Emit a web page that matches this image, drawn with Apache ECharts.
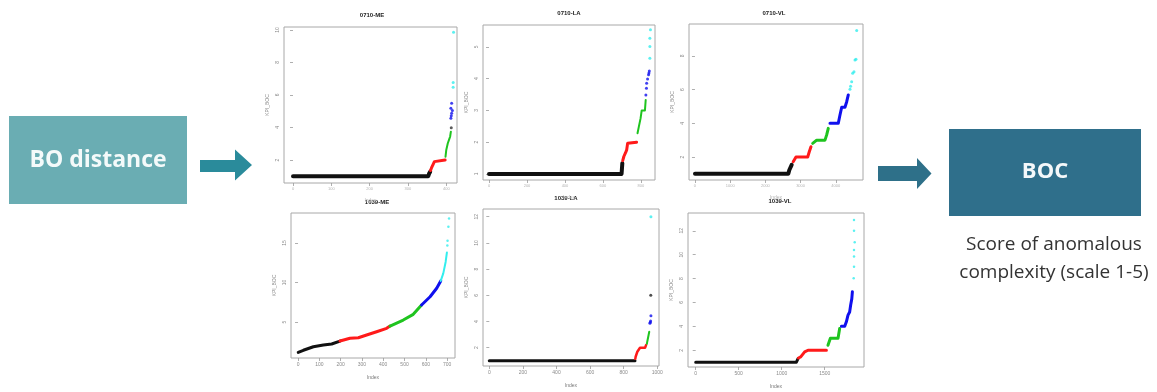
<!DOCTYPE html>
<html>
<head>
<meta charset="utf-8">
<script src="https://cdn.jsdelivr.net/npm/echarts@6/dist/echarts.min.js"></script>
<style>
html,body{margin:0;padding:0;background:#fff;}
#chart{width:1157px;height:392px;}
</style>
</head>
<body>
<div id="chart"></div>
<script>
// ---- Panel titles ----
const panelTitles = ['0710-ME', '0710-LA', '0710-VL', '1039-ME', '1039-LA', '1039-VL'];

// ---- Tick labels ----
const xTicks = [
  [0, 100, 200, 300, 400],
  [0, 200, 400, 600, 800],
  [0, 1000, 2000, 3000, 4000],
  [0, 100, 200, 300, 400, 500, 600, 700],
  [0, 200, 400, 600, 800, 1000],
  [0, 500, 1000, 1500]
];
const yTicks = [
  [2, 4, 6, 8, 10],
  [1, 2, 3, 4, 5],
  [2, 4, 6, 8],
  [5, 10, 15],
  [2, 4, 6, 8, 10, 12],
  [2, 4, 6, 8, 10, 12]
];

// ---- Series values: [index, KPI_BOC] ----
// 0710-ME
const me0710_black = [[0, 1], [353, 1], [355, 1.15], [358, 1.28]];
const me0710_red = [[359, 1.35], [362, 1.55], [366, 1.75], [369, 1.9], [371, 2.0], [397, 2.0]];
const me0710_green = [[398, 2.2], [400, 2.62], [404, 3.03], [408, 3.3], [410, 3.43], [412, 3.74]];
const me0710_dark = [[413, 3.99]];
const me0710_blue = [[412, 4.56], [413, 4.72], [414, 4.87], [412, 5.18], [416, 5.05], [414, 5.49]];
const me0710_cyan = [[418, 6.47], [418, 6.76], [419, 9.86]];
// 0710-LA
const la0710_black = [[0, 1], [698, 1], [702, 1.34]];
const la0710_red = [[704, 1.42], [710, 1.55], [719, 1.67], [725, 1.76], [730, 1.97], [733, 2.0], [777, 2.0]];
const la0710_green = [[782, 2.28], [789, 2.49], [798, 2.75], [804, 3.0], [821, 3.0], [825, 3.33]];
const la0710_blue = [[826, 3.49], [829, 3.7], [830, 3.86], [835, 3.99], [840, 4.12], [842, 4.18], [844, 4.24]];
const la0710_cyan = [[847, 4.64], [847, 5.01], [847, 5.27], [850, 5.54]];
// 0710-VL
const vl0710_black = [[0, 1], [2651, 1], [2680, 1.23], [2747, 1.53]];
const vl0710_red = [[2790, 1.72], [2869, 2.0], [3202, 2.0], [3247, 2.31], [3295, 2.61]];
const vl0710_green = [[3344, 2.81], [3457, 3.0], [3693, 3.0], [3741, 3.31], [3787, 3.7]];
const vl0710_blue = [[3835, 4.0], [4071, 4.0], [4119, 4.49], [4168, 4.95], [4261, 4.95], [4310, 5.28], [4355, 5.68]];
const vl0710_cyan = [[4403, 6.02], [4420, 6.2], [4451, 6.47], [4480, 6.97], [4517, 7.06], [4545, 7.76], [4574, 7.8], [4594, 9.5]];
// 1039-ME
const me1039_black = [[1, 1.16], [25, 1.42], [72, 1.87], [119, 2.09], [158, 2.22], [197, 2.59]];
const me1039_red = [[197, 2.59], [244, 2.94], [283, 3.01], [322, 3.35], [369, 3.77], [416, 4.2], [432, 4.49]];
const me1039_green = [[432, 4.49], [494, 5.25], [541, 5.97], [580, 7.15]];
const me1039_blue = [[580, 7.15], [620, 8.2], [651, 9.27], [670, 10.2]];
const me1039_cyanLine = [[670, 10.2], [682, 11.16], [693, 12.6], [699, 13.8]];
const me1039_cyan = [[701, 14.7], [702, 15.3], [706, 17.06], [709, 18.1]];
// 1039-LA
const la1039_black = [[0, 1], [867, 1]];
const la1039_red = [[869, 1.15], [871, 1.31], [881, 1.69], [897, 2.0], [927, 2.0], [933, 2.2]];
const la1039_green = [[938, 2.3], [940, 2.46], [946, 2.84], [952, 3.22]];
const la1039_blue = [[956, 3.86], [958, 3.95], [960, 4.04], [962, 4.44]];
const la1039_dark = [[961, 6.0]];
const la1039_cyan = [[962, 12.0]];
// 1039-VL
const vl1039_black = [[0, 1], [1171, 1], [1190, 1.3]];
const vl1039_red = [[1195, 1.35], [1221, 1.44], [1267, 1.86], [1306, 2.0], [1520, 2.0]];
const vl1039_green = [[1538, 2.42], [1566, 3.0], [1655, 3.0], [1674, 3.82]];
const vl1039_blue = [[1694, 4.0], [1733, 4.0], [1752, 4.38], [1771, 4.94], [1790, 5.2], [1802, 5.78], [1815, 6.3], [1822, 6.9]];
const vl1039_cyan = [[1837, 8.02], [1841, 9.0], [1841, 9.84], [1841, 10.4], [1849, 11.05], [1841, 12.0], [1841, 12.9]];

// ---- Flow labels ----
const leftBoxLabel = 'BO distance';
const rightBoxLabel = 'BOC';
const captionLines = ['Score of anomalous', 'complexity (scale 1-5)'];

// ---- Colours (R palette) ----
const C = { black: '#111111', red: '#ff1a1a', green: '#1fc41f', blue: '#1010ee', cyan: '#33eeee' };

// ---- Layout ----
const grids = [
  { left: 284, top: 27, width: 173, height: 156 },
  { left: 483, top: 25, width: 172, height: 155 },
  { left: 689, top: 24, width: 174, height: 156 },
  { left: 291, top: 213, width: 164, height: 145 },
  { left: 483, top: 209, width: 176, height: 157 },
  { left: 688, top: 213, width: 176, height: 154 }
];
const xRange = [[-23.5, 428], [-31.6, 874], [-170, 4773], [-33, 737], [-37.5, 1010], [-89.5, 1957]];
const yRange = [[0.585, 10.18], [0.81, 5.69], [0.635, 9.89], [0.443, 18.8], [0.603, 12.59], [0.597, 13.49]];

const panels = [
  { lines: [[me0710_black, C.black, 4], [me0710_red, C.red, 3], [me0710_green, C.green, 2]],
    dots: [[me0710_dark, '#333', 3], [me0710_blue, C.blue, 3], [me0710_cyan, C.cyan, 3]] },
  { lines: [[la0710_black, C.black, 4], [la0710_red, C.red, 3], [la0710_green, C.green, 2]],
    dots: [[la0710_blue, C.blue, 3], [la0710_cyan, C.cyan, 3]] },
  { lines: [[vl0710_black, C.black, 4], [vl0710_red, C.red, 3], [vl0710_green, C.green, 3], [vl0710_blue, C.blue, 3]],
    dots: [[vl0710_cyan, C.cyan, 3]] },
  { lines: [[me1039_black, C.black, 3], [me1039_red, C.red, 3], [me1039_green, C.green, 3], [me1039_blue, C.blue, 3], [me1039_cyanLine, C.cyan, 2]],
    dots: [[me1039_cyan, C.cyan, 2.5]] },
  { lines: [[la1039_black, C.black, 3], [la1039_red, C.red, 2.5], [la1039_green, C.green, 2]],
    dots: [[la1039_blue, C.blue, 3], [la1039_dark, '#222', 3], [la1039_cyan, C.cyan, 3]] },
  { lines: [[vl1039_black, C.black, 3], [vl1039_red, C.red, 3], [vl1039_green, C.green, 3], [vl1039_blue, C.blue, 3]],
    dots: [[vl1039_cyan, C.cyan, 2.5]] }
];

const tickColor = '#9a9a9a';
const plain = v => String(v);
const grid = [], xAxis = [], yAxis = [], series = [];
grids.forEach((g, i) => {
  grid.push(Object.assign({ show: true, borderColor: '#a8a8a8', borderWidth: 1, backgroundColor: '#fff' }, g));
  xAxis.push({
    type: 'value', gridIndex: i, min: xRange[i][0], max: xRange[i][1],
    splitLine: { show: false }, axisLine: { show: false },
    axisTick: { show: true, customValues: xTicks[i], length: 3, lineStyle: { color: tickColor, width: 0.8 } },
    axisLabel: { customValues: xTicks[i], formatter: plain, fontSize: i < 3 ? 4 : 5, color: i < 3 ? '#b5b5b5' : '#8a8a8a', margin: 4, fontFamily: 'Liberation Sans' },
    name: 'Index', nameLocation: 'middle', nameGap: i < 3 ? 15 : 17,
    nameTextStyle: { fontSize: 5, color: i < 3 ? '#b5b5b5' : '#777', fontFamily: 'Liberation Sans' }
  });
  yAxis.push({
    type: 'value', gridIndex: i, min: yRange[i][0], max: yRange[i][1],
    splitLine: { show: false }, axisLine: { show: false },
    axisTick: { show: true, customValues: yTicks[i], length: 3, lineStyle: { color: tickColor, width: 0.8 } },
    axisLabel: { customValues: yTicks[i], formatter: plain, fontSize: 5, color: '#8a8a8a', margin: 4, rotate: 90, fontFamily: 'Liberation Sans' },
    name: 'KPI_BOC', nameLocation: 'middle', nameGap: 14, nameRotate: 90,
    nameTextStyle: { fontSize: 5, color: '#888', fontFamily: 'Liberation Sans' }
  });
  panels[i].lines.forEach(([data, color, w]) => {
    series.push({ type: 'line', xAxisIndex: i, yAxisIndex: i, data: data, showSymbol: false, symbol: 'none',
      lineStyle: { color: color, width: w, cap: 'round', join: 'round' }, itemStyle: { color: color },
      silent: true, animation: false });
  });
  panels[i].dots.forEach(([data, color, s]) => {
    series.push({ type: 'scatter', xAxisIndex: i, yAxisIndex: i, data: data, symbolSize: s,
      itemStyle: { color: color }, silent: true, animation: false });
  });
});

const titlePos = [[372, 15], [569, 13], [774, 13], [377, 202], [566, 198], [780, 201]];
const graphic = [];
panelTitles.forEach((t, i) => {
  graphic.push({ type: 'text', x: titlePos[i][0], y: titlePos[i][1], silent: true,
    style: { text: t, font: 'bold 6px "Liberation Sans"', fill: '#222', align: 'center', verticalAlign: 'middle', textAlign: 'center', textVerticalAlign: 'middle' } });
});
// Left box
graphic.push({ type: 'rect', shape: { x: 9, y: 116, width: 178, height: 88 }, style: { fill: '#6aadb3' }, silent: true });
graphic.push({ type: 'text', x: 98, y: 160, silent: true,
  style: { text: leftBoxLabel, font: 'bold 23px "Open Sans"', fill: '#f4fafa', align: 'center', verticalAlign: 'middle', textAlign: 'center', textVerticalAlign: 'middle' } });
// Arrow 1
graphic.push({ type: 'polygon', silent: true,
  shape: { points: [[200, 160], [235, 160], [235, 149.5], [252, 165], [235, 180.5], [235, 172], [200, 172]] },
  style: { fill: '#2a8b9b' } });
// Arrow 2
graphic.push({ type: 'polygon', silent: true,
  shape: { points: [[878, 166], [917, 166], [917, 158], [931.5, 173.5], [917, 189], [917, 181], [878, 181]] },
  style: { fill: '#2e7089' } });
// Right box
graphic.push({ type: 'rect', shape: { x: 949, y: 129, width: 192, height: 87 }, style: { fill: '#2f6f8b' }, silent: true });
graphic.push({ type: 'text', x: 1045, y: 172, silent: true,
  style: { text: rightBoxLabel, font: 'bold 22px "Open Sans"', fill: '#f4f8fa', align: 'center', verticalAlign: 'middle', textAlign: 'center', textVerticalAlign: 'middle' } });
// Caption
captionLines.forEach((t, k) => {
  graphic.push({ type: 'text', x: 1054, y: 245 + k * 28, silent: true,
    style: { text: t, font: '19px "Open Sans"', fill: '#333', align: 'center', verticalAlign: 'middle', textAlign: 'center', textVerticalAlign: 'middle' } });
});

const chart = echarts.init(document.getElementById('chart'), null, { renderer: 'canvas' });
chart.setOption({ animation: false, backgroundColor: '#fff', grid, xAxis, yAxis, series, graphic });
</script>
</body>
</html>
